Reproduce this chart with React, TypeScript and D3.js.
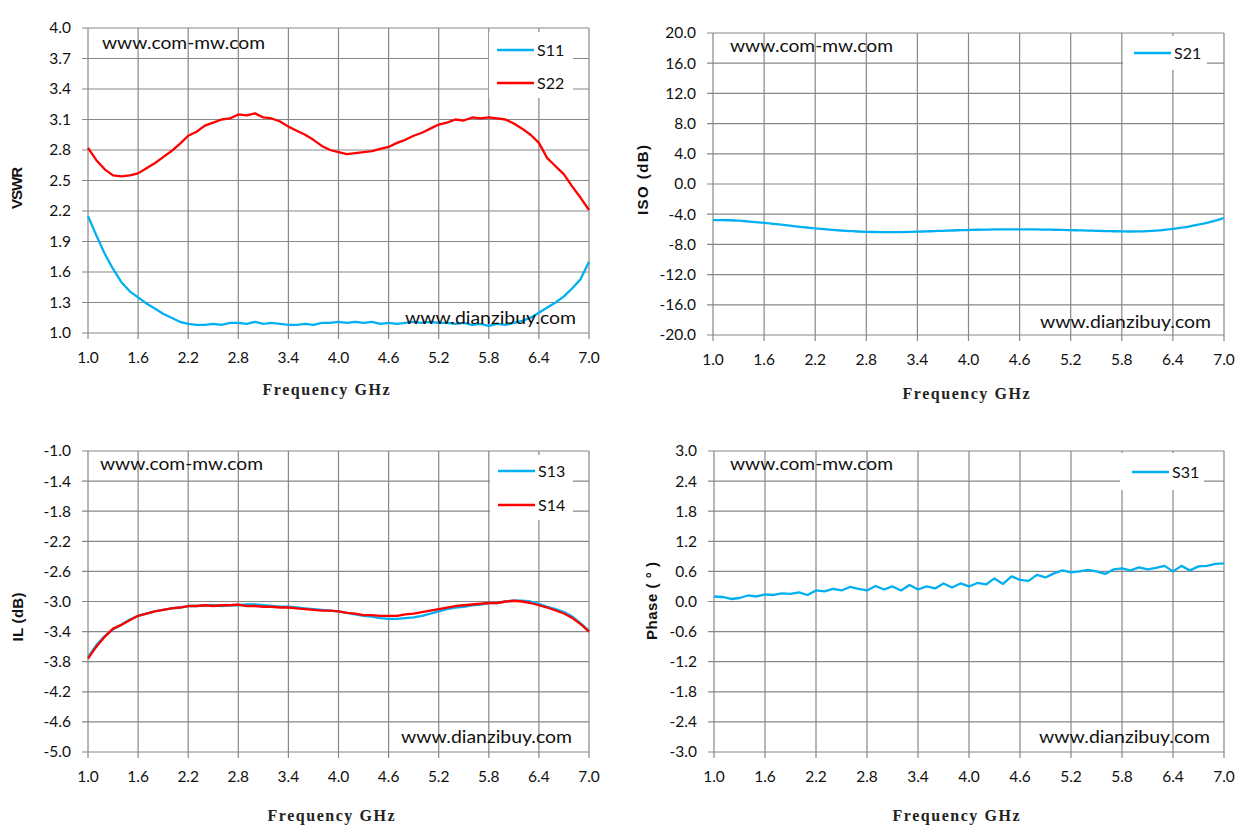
import React from "react";
import * as d3 from "d3";

// frequency grid, GHz
const freq = [
	1.0, 1.1, 1.2, 1.3, 1.4, 1.5, 1.6, 1.7, 1.8, 1.9, 2.0, 2.1, 2.2, 2.3, 2.4, 2.5, 2.6, 2.7, 2.8, 2.9, 3.0,
	3.1, 3.2, 3.3, 3.4, 3.5, 3.6, 3.7, 3.8, 3.9, 4.0, 4.1, 4.2, 4.3, 4.4, 4.5, 4.6, 4.7, 4.8, 4.9, 5.0,
	5.1, 5.2, 5.3, 5.4, 5.5, 5.6, 5.7, 5.8, 5.9, 6.0, 6.1, 6.2, 6.3, 6.4, 6.5, 6.6, 6.7, 6.8, 6.9, 7.0,
];

const s11 = [
	2.15, 1.96, 1.78, 1.63, 1.5, 1.41, 1.35, 1.29, 1.24, 1.19, 1.15, 1.11, 1.09, 1.08, 1.08, 1.09, 1.08, 1.1, 1.1, 1.09, 1.11,
	1.09, 1.1, 1.09, 1.08, 1.08, 1.09, 1.08, 1.1, 1.1, 1.11, 1.1, 1.11, 1.1, 1.11, 1.09, 1.1, 1.09, 1.1, 1.11, 1.1,
	1.11, 1.1, 1.1, 1.09, 1.1, 1.08, 1.09, 1.07, 1.09, 1.08, 1.1, 1.12, 1.15, 1.2, 1.25, 1.3, 1.36, 1.44, 1.53, 1.7,
];
const s22 = [
	2.82, 2.7, 2.61, 2.55, 2.54, 2.55, 2.57, 2.62, 2.67, 2.73, 2.79, 2.86, 2.94, 2.98, 3.04, 3.07, 3.1, 3.11, 3.15, 3.14, 3.16,
	3.12, 3.11, 3.08, 3.03, 2.99, 2.95, 2.9, 2.84, 2.8, 2.78, 2.76, 2.77, 2.78, 2.79, 2.81, 2.83, 2.87, 2.9, 2.94, 2.97,
	3.01, 3.05, 3.07, 3.1, 3.09, 3.12, 3.11, 3.12, 3.11, 3.1, 3.06, 3.01, 2.95, 2.87, 2.72, 2.64, 2.56, 2.44, 2.33, 2.21,
];
const s21 = [
	-4.78, -4.78, -4.8, -4.86, -4.95, -5.05, -5.15, -5.27, -5.39, -5.52, -5.64, -5.76, -5.88, -5.98, -6.08, -6.16, -6.23, -6.29, -6.33, -6.36, -6.38,
	-6.38, -6.37, -6.35, -6.32, -6.28, -6.24, -6.2, -6.16, -6.12, -6.09, -6.06, -6.04, -6.02, -6.01, -6.0, -6.0, -6.01, -6.02, -6.04, -6.06,
	-6.08, -6.11, -6.14, -6.17, -6.2, -6.23, -6.26, -6.28, -6.29, -6.28, -6.24, -6.17, -6.07, -5.94, -5.78, -5.6, -5.39, -5.15, -4.86, -4.5,
];
const s13 = [
	-3.74, -3.58, -3.46, -3.37, -3.31, -3.24, -3.19, -3.16, -3.13, -3.11, -3.09, -3.08, -3.06, -3.06, -3.05, -3.05, -3.06, -3.05, -3.05, -3.04, -3.04,
	-3.05, -3.06, -3.07, -3.07, -3.08, -3.09, -3.1, -3.11, -3.12, -3.13, -3.15, -3.17, -3.19, -3.2, -3.22, -3.23, -3.23, -3.22, -3.21, -3.19,
	-3.16, -3.13, -3.1, -3.08, -3.07, -3.05, -3.04, -3.02, -3.02, -3.0, -2.99, -2.99, -3.0, -3.03, -3.07, -3.1, -3.14, -3.2, -3.29, -3.39,
];
const s14 = [
	-3.76, -3.6, -3.47, -3.36, -3.31, -3.25, -3.19, -3.16, -3.13, -3.11, -3.09, -3.08, -3.06, -3.06, -3.05, -3.06, -3.05, -3.05, -3.04, -3.06, -3.06,
	-3.07, -3.07, -3.08, -3.08, -3.09, -3.1, -3.11, -3.12, -3.12, -3.13, -3.15, -3.16, -3.18, -3.18, -3.19, -3.19, -3.19, -3.17, -3.16, -3.14,
	-3.12, -3.1, -3.08, -3.06, -3.05, -3.04, -3.03, -3.02, -3.02, -3.0, -2.99, -3.0, -3.02, -3.05, -3.08, -3.12, -3.16, -3.22, -3.3, -3.4,
];
const s31 = [
	0.1, 0.09, 0.05, 0.07, 0.12, 0.1, 0.14, 0.13, 0.16, 0.15, 0.18, 0.13, 0.22, 0.2, 0.25, 0.22, 0.29, 0.25, 0.22, 0.31, 0.24,
	0.3, 0.22, 0.33, 0.24, 0.3, 0.26, 0.36, 0.28, 0.36, 0.3, 0.37, 0.34, 0.46, 0.35, 0.5, 0.43, 0.41, 0.53, 0.48, 0.56,
	0.62, 0.58, 0.6, 0.63, 0.6, 0.55, 0.64, 0.66, 0.62, 0.68, 0.64, 0.67, 0.71, 0.6, 0.71, 0.62, 0.7, 0.71, 0.75, 0.76,
];

// tick labels
const freqTicks = [1.0, 1.6, 2.2, 2.8, 3.4, 4.0, 4.6, 5.2, 5.8, 6.4, 7.0];
const vswrTicks = [1.0, 1.3, 1.6, 1.9, 2.2, 2.5, 2.8, 3.1, 3.4, 3.7, 4.0];
const isoTicks = [-20, -16, -12, -8, -4, 0, 4, 8, 12, 16, 20];
const ilTicks = [-5.0, -4.6, -4.2, -3.8, -3.4, -3.0, -2.6, -2.2, -1.8, -1.4, -1.0];
const phaseTicks = [-3.0, -2.4, -1.8, -1.2, -0.6, 0.0, 0.6, 1.2, 1.8, 2.4, 3.0];

const BLUE = "#00b0f0";
const RED = "#ff0000";
const GRID = "#878787";
const TICK_FONT = "Lato, 'Open Sans', sans-serif";

type Series = { name: string; color: string; values: number[] };

type PanelProps = {
	left: number;
	right: number;
	top: number;
	bottom: number;
	yTicks: number[];
	yTitle: string;
	yTitleX: number;
	yTitleY: number;
	yTitleLen: number;
	xTitleX: number;
	xTitleY: number;
	series: Series[];
	smooth?: boolean;
	legend: { x: number; y: number; w: number; h: number; lineX: number; firstY: number; gap: number };
	mark1: { x: number; y: number };
	mark2: { x: number; y: number };
};

// d3.format gives a unicode minus, the original uses a plain hyphen
const fmt = (v: number) => d3.format(".1f")(v).replace("\u2212", "-");

function Panel(p: PanelProps) {
	const x = d3.scaleLinear().domain([1, 7]).range([p.left, p.right]);
	const y = d3
		.scaleLinear()
		.domain(d3.extent(p.yTicks) as [number, number])
		.range([p.bottom, p.top]);

	const line = (vals: number[]) =>
		d3
			.line<number>()
			.x((_, i) => x(freq[i]))
			.y((v) => y(v))
			.curve(p.smooth ? d3.curveCatmullRom : d3.curveLinear)(vals) ?? "";

	return (
		<g>
			{/* grid */}
			{p.yTicks.map((t) => (
				<line key={"h" + t} x1={p.left - 6} x2={p.right} y1={y(t)} y2={y(t)} stroke={GRID} strokeWidth={1.2} />
			))}
			{freqTicks.map((t) => (
				<line key={"v" + t} x1={x(t)} x2={x(t)} y1={p.top} y2={p.bottom + 6} stroke={GRID} strokeWidth={1.2} />
			))}

			{/* y tick labels */}
			{p.yTicks.map((t) => (
				<text key={"yl" + t} x={p.left - 17} y={y(t)} dy="0.35em" textAnchor="end" fontFamily={TICK_FONT} fontSize={15.5} fill="#111">
					{fmt(t)}
				</text>
			))}
			{/* x tick labels */}
			{freqTicks.map((t) => (
				<text key={"xl" + t} x={x(t)} y={p.bottom + 25} dy="0.35em" textAnchor="middle" fontFamily={TICK_FONT} fontSize={15.5} fill="#111">
					{fmt(t)}
				</text>
			))}

			{/* series */}
			{p.series.map((s) => (
				<path key={s.name} d={line(s.values)} fill="none" stroke={s.color} strokeWidth={2.3} strokeLinejoin="round" />
			))}

			{/* legend */}
			<rect x={p.legend.x} y={p.legend.y} width={p.legend.w} height={p.legend.h} fill="white" />
			{p.series.map((s, i) => {
				const ly = p.legend.firstY + i * p.legend.gap;
				return (
					<g key={"lg" + s.name}>
						<line x1={p.legend.lineX} x2={p.legend.lineX + 37} y1={ly} y2={ly} stroke={s.color} strokeWidth={2.3} />
						<text x={p.legend.lineX + 40} y={ly} dy="0.35em" fontFamily={TICK_FONT} fontSize={16} fill="#111">
							{s.name}
						</text>
					</g>
				);
			})}

			{/* watermarks */}
			<text x={p.mark1.x} y={p.mark1.y} dy="0.35em" fontFamily={TICK_FONT} fontSize={18} textLength={163} lengthAdjust="spacingAndGlyphs" fill="#111">
				www.com-mw.com
			</text>
			<text x={p.mark2.x} y={p.mark2.y} dy="0.35em" fontFamily={TICK_FONT} fontSize={18} textLength={171} lengthAdjust="spacingAndGlyphs" fill="#111">
				www.dianzibuy.com
			</text>

			{/* axis titles */}
			<text
				transform={`translate(${p.yTitleX},${p.yTitleY}) rotate(-90)`}
				dy="0.35em"
				textAnchor="middle"
				fontFamily="'Liberation Sans', Arial, sans-serif"
				fontWeight="bold"
				fontSize={15}
				textLength={p.yTitleLen}
				lengthAdjust="spacing"
				fill="#111"
			>
				{p.yTitle}
			</text>
			<text
				x={p.xTitleX}
				y={p.xTitleY}
				dy="0.35em"
				textAnchor="middle"
				fontFamily="'Liberation Serif', 'DejaVu Serif', serif"
				fontWeight="bold"
				fontSize={16}
				textLength={127}
				lengthAdjust="spacing"
				fill="#222"
			>
				Frequency GHz
			</text>
		</g>
	);
}

export default function App() {
	return (
		<svg width={1251} height={833} style={{ position: "absolute", left: 0, top: 0, background: "white" }}>
			<rect width={1251} height={833} fill="white" />
			<Panel
				left={88}
				right={589}
				top={28}
				bottom={333}
				yTicks={vswrTicks}
				yTitle="VSWR"
				yTitleX={17}
				yTitleY={188}
				yTitleLen={42}
				xTitleX={326}
				xTitleY={389}
				series={[
					{ name: "S11", color: BLUE, values: s11 },
					{ name: "S22", color: RED, values: s22 },
				]}
				legend={{ x: 489, y: 32, w: 84, h: 66, lineX: 497, firstY: 50, gap: 33 }}
				mark1={{ x: 102, y: 43 }}
				mark2={{ x: 405, y: 318 }}
			/>
			<Panel
				left={713}
				right={1224}
				top={33}
				bottom={335}
				yTicks={isoTicks}
				yTitle="ISO (dB)"
				yTitleX={643}
				yTitleY={180}
				yTitleLen={70}
				xTitleX={966}
				xTitleY={393}
				smooth
				series={[{ name: "S21", color: BLUE, values: s21 }]}
				legend={{ x: 1123, y: 36, w: 84, h: 34, lineX: 1134, firstY: 53, gap: 33 }}
				mark1={{ x: 730, y: 46 }}
				mark2={{ x: 1040, y: 322 }}
			/>
			<Panel
				left={88}
				right={589}
				top={451}
				bottom={752}
				yTicks={ilTicks}
				yTitle="IL (dB)"
				yTitleX={18}
				yTitleY={617}
				yTitleLen={49}
				xTitleX={331}
				xTitleY={815}
				series={[
					{ name: "S13", color: BLUE, values: s13 },
					{ name: "S14", color: RED, values: s14 },
				]}
				legend={{ x: 490, y: 455, w: 83, h: 65, lineX: 498, firstY: 471, gap: 34 }}
				mark1={{ x: 100, y: 464 }}
				mark2={{ x: 401, y: 737 }}
			/>
			<Panel
				left={714}
				right={1224}
				top={451}
				bottom={752}
				yTicks={phaseTicks}
				yTitle="Phase ( ° )"
				yTitleX={652}
				yTitleY={601}
				yTitleLen={78}
				xTitleX={956}
				xTitleY={815}
				series={[{ name: "S31", color: BLUE, values: s31 }]}
				legend={{ x: 1120, y: 453, w: 84, h: 37, lineX: 1132, firstY: 472, gap: 33 }}
				mark1={{ x: 730, y: 464 }}
				mark2={{ x: 1039, y: 737 }}
			/>
		</svg>
	);
}
